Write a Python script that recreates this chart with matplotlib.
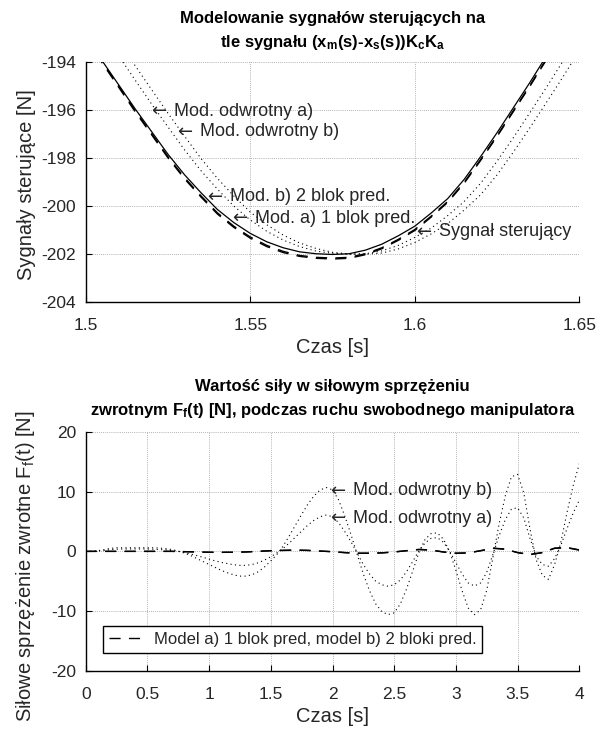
import numpy as np
import matplotlib
matplotlib.use("Agg")
import matplotlib.pyplot as plt

plt.rcParams["font.family"] = ["Liberation Sans", "DejaVu Sans"]
plt.rcParams["mathtext.fontset"] = "custom"
plt.rcParams["mathtext.rm"] = "Liberation Sans"
plt.rcParams["mathtext.it"] = "Liberation Sans:italic"
plt.rcParams["mathtext.bf"] = "Liberation Sans:bold"
plt.rcParams["axes.unicode_minus"] = False

# --- gorny wykres: sygnaly sterujace (t = 1.500 ... 1.650, krok 0.005)
t_top = np.linspace(1.5, 1.65, 31)
syg_ster = [-192.9, -193.95, -194.95, -195.95, -196.9, -197.85, -198.7, -199.45,
            -200.15, -200.7, -201.15, -201.5, -201.75, -201.92, -202.0, -202.03,
            -202.0, -201.85, -201.6, -201.25, -200.85, -200.3, -199.7, -198.9,
            -197.95, -196.95, -195.9, -194.85, -193.75, -192.6, -191.4]
mod_a_1blok = [-192.95, -194.0, -195.0, -196.02, -196.98, -197.95, -198.82, -199.58,
               -200.29, -200.85, -201.3, -201.65, -201.9, -202.07, -202.15, -202.18,
               -202.15, -202.0, -201.75, -201.4, -200.99, -200.43, -199.82, -199.02,
               -198.07, -197.07, -196.02, -194.97, -193.87, -192.72, -191.52]
mod_b_2blok = [-192.98, -194.04, -195.05, -196.07, -197.03, -198.0, -198.87, -199.63,
               -200.34, -200.9, -201.35, -201.7, -201.95, -202.11, -202.19, -202.22,
               -202.19, -202.04, -201.79, -201.44, -201.03, -200.47, -199.86, -199.06,
               -198.11, -197.11, -196.06, -195.01, -193.91, -192.76, -191.56]
odwr_a = [-191.7, -192.7, -193.74, -194.75, -195.75, -196.71, -197.66, -198.53,
          -199.3, -200.01, -200.59, -201.06, -201.43, -201.7, -201.89, -201.98,
          -202.02, -202.0, -201.88, -201.65, -201.32, -200.93, -200.41, -199.82,
          -199.06, -198.14, -197.15, -196.11, -195.06, -193.97, -192.83]
odwr_b = [-191.2, -192.1, -193.11, -194.15, -195.15, -196.14, -197.09, -198.02,
          -198.85, -199.59, -200.26, -200.79, -201.22, -201.55, -201.78, -201.94,
          -202.01, -202.02, -201.97, -201.8, -201.53, -201.17, -200.74, -200.18,
          -199.54, -198.71, -197.75, -196.74, -195.69, -194.63, -193.52]

# --- dolny wykres: sila w sprzezeniu zwrotnym (t = 0 ... 4, krok 0.05)
t_bot = np.linspace(0, 4, 81)
ff_odwr_b = [0.0, 0.0, 0.1, 0.3, 0.5, 0.6, 0.6, 0.6, 0.6, 0.6, 0.6, 0.6, 0.55, 0.45,
             0.3, 0.05, -0.3, -0.7, -1.2, -1.7, -2.2, -2.7, -3.2, -3.6, -3.95, -4.15,
             -4.15, -3.9, -3.4, -2.6, -1.6, -0.5, 0.9, 2.6, 4.4, 6.2, 7.9, 9.3, 10.3,
             10.7, 10.3, 8.6, 5.9, 2.8, -0.5, -3.8, -6.6, -8.8, -10.1, -10.6, -10.3,
             -8.8, -6.3, -3.3, -0.2, 2.0, 3.0, 3.1, 2.0, -0.1, -3.2, -6.6, -9.5, -10.6,
             -9.8, -6.5, -1.0, 4.6, 9.3, 12.5, 12.9, 9.8, 3.8, -1.4, -4.0, -4.7, -2.2,
             1.5, 6.5, 11.0, 14.7]
ff_odwr_a = [0.0, 0.0, 0.05, 0.15, 0.3, 0.35, 0.4, 0.4, 0.4, 0.4, 0.4, 0.35, 0.3, 0.25,
             0.15, 0.0, -0.2, -0.45, -0.7, -1.0, -1.3, -1.6, -1.85, -2.05, -2.25, -2.35,
             -2.35, -2.2, -1.9, -1.45, -0.9, -0.25, 0.5, 1.4, 2.4, 3.4, 4.4, 5.2, 5.8,
             6.1, 5.8, 4.8, 3.3, 1.6, -0.3, -2.2, -3.8, -5.0, -5.6, -5.85, -5.6, -4.8,
             -3.4, -1.7, 0.1, 1.4, 2.2, 2.3, 1.5, 0.0, -1.9, -3.8, -5.3, -5.8, -5.3,
             -3.5, -0.5, 2.6, 5.3, 7.1, 7.3, 5.6, 2.2, -0.8, -2.2, -2.5, -1.2, 1.0, 3.8,
             6.4, 8.6]

# modele a) i b) (t = 0 ... 4, krok 0.1)
t_mod = np.linspace(0, 4, 41)
ff_mod_a = [0.0, 0.0, 0.0, 0.0, 0.0, 0.0, 0.0, 0.0, -0.05, -0.1, -0.15, -0.15, -0.15,
            -0.1, 0.0, 0.1, 0.15, 0.2, 0.15, 0.05, -0.05, -0.2, -0.3, -0.3, -0.25,
            -0.1, 0.1, 0.3, 0.2, -0.1, -0.3, -0.25, 0.1, 0.5, 0.35, -0.2, -0.5, -0.2,
            0.5, 0.6, 0.2]
ff_mod_b = [0.0, 0.0, 0.0, 0.0, 0.0, 0.0, 0.0, 0.0, -0.05, -0.1, -0.15, -0.17, -0.15,
            -0.1, 0.02, 0.12, 0.18, 0.22, 0.17, 0.05, -0.07, -0.22, -0.33, -0.32, -0.26,
            -0.1, 0.12, 0.33, 0.22, -0.12, -0.33, -0.27, 0.12, 0.55, 0.38, -0.22, -0.55,
            -0.22, 0.55, 0.65, 0.25]

TXT = "#262626"
dash = dict(linestyle=(0, (8, 6)), color="k", lw=1.0)
dots = dict(linestyle=(0, (1, 3)), color="k", lw=0.8)


def strzalka(ax, x, y, s):
    # strzalka jak \leftarrow w MATLAB, tekst obok
    ax.text(x, y, "\u2190", fontsize=13, family="DejaVu Sans", color=TXT,
            ha="left", va="center")
    ax.annotate(s, (x, y), xytext=(16.2, 0), textcoords="offset points",
                fontsize=13, color=TXT, ha="left", va="center")


fig = plt.figure(figsize=(6.07, 7.31), dpi=100)
ax1 = fig.add_axes([0.1412, 0.5873, 0.8132, 0.3279])
ax2 = fig.add_axes([0.1412, 0.0825, 0.8132, 0.3265])

ax1.plot(t_top, odwr_a, **dots)
ax1.plot(t_top, odwr_b, **dots)
ax1.plot(t_top, mod_a_1blok, **dash)
ax1.plot(t_top, mod_b_2blok, **dash)
ax1.plot(t_top, syg_ster, color="k", lw=0.9)
ax1.set_xlim(1.5, 1.65)
ax1.set_ylim(-204, -194)
ax1.set_xticks([1.5, 1.55, 1.6, 1.65])
ax1.set_xticklabels(["1.5", "1.55", "1.6", "1.65"])
ax1.set_yticks([-204, -202, -200, -198, -196, -194])

strzalka(ax1, 1.5200, -196.05, "Mod. odwrotny a)")
strzalka(ax1, 1.5278, -196.9, "Mod. odwrotny b)")
strzalka(ax1, 1.5370, -199.62, "Mod. b) 2 blok pred.")
strzalka(ax1, 1.5446, -200.52, "Mod. a) 1 blok pred.")
strzalka(ax1, 1.6005, -201.08, "Sygnał sterujący")

ax2.plot(t_bot, ff_odwr_b, **dots)
ax2.plot(t_bot, ff_odwr_a, **dots)
ax2.plot(t_mod, ff_mod_a, label="Model a) 1 blok pred, model b) 2 bloki pred.", **dash)
ax2.plot(t_mod, ff_mod_b, **dash)
ax2.set_xlim(0, 4)
ax2.set_ylim(-20, 20)
ax2.set_xticks([0, 0.5, 1, 1.5, 2, 2.5, 3, 3.5, 4])
ax2.set_xticklabels(["0", "0.5", "1", "1.5", "2", "2.5", "3", "3.5", "4"])
ax2.set_yticks([-20, -10, 0, 10, 20])
strzalka(ax2, 1.982, 10.2, "Mod. odwrotny b)")
strzalka(ax2, 1.982, 5.55, "Mod. odwrotny a)")

leg = ax2.legend(loc="lower left", bbox_to_anchor=(0.0351, 0.0754), borderaxespad=0,
                 fontsize=12, frameon=True, fancybox=False, framealpha=1,
                 edgecolor="k", handlelength=2.0, handletextpad=0.7, borderpad=0.35)
leg.get_frame().set_linewidth(1.0)
for t in leg.get_texts():
    t.set_color(TXT)

for ax in (ax1, ax2):
    ax.grid(True, color="#9a9a9a", linestyle=(0, (1, 1.5)), lw=0.6)
    ax.spines["top"].set_visible(False)
    ax.spines["right"].set_visible(False)
    ax.spines["left"].set_linewidth(1.0)
    ax.spines["bottom"].set_linewidth(1.0)
    ax.tick_params(direction="in", length=4, width=0.8, labelsize=12.5,
                   labelcolor=TXT)
    ax.tick_params(axis="x", pad=11.5)
    ax.tick_params(axis="y", pad=7)

ax1.set_xlabel("Czas [s]", fontsize=14.5, color=TXT, labelpad=4)
ax2.set_xlabel("Czas [s]", fontsize=14.5, color=TXT, labelpad=4)
fig.text(26 / 607, 1 - 185 / 731, "Sygnały sterujące [N]", rotation=90,
         fontsize=14.5, color=TXT, ha="center", va="center")
fig.text(26 / 607, 1 - 566 / 731, r"Siłowe sprzężenie zwrotne F$_\mathrm{f}$(t) [N]",
         rotation=90, fontsize=14.5, color=TXT, ha="center", va="center")

cx = (85.7 + 579.3) / 2 / 607
fig.text(cx, 1 - 23.5 / 731, "Modelowanie sygnałów sterujących na",
         fontsize=12, weight="bold", ha="center", va="baseline")
fig.text(cx, 1 - 46.5 / 731,
         r"tle sygnału (x$_\mathbf{m}$(s)-x$_\mathbf{s}$(s))K$_\mathbf{c}$K$_\mathbf{a}$",
         fontsize=12, weight="bold", ha="center", va="baseline")
fig.text(cx, 1 - 391.5 / 731, "Wartość siły w siłowym sprzężeniu",
         fontsize=12, weight="bold", ha="center", va="baseline")
fig.text(cx, 1 - 415 / 731,
         r"zwrotnym F$_\mathbf{f}$(t) [N], podczas ruchu swobodnego manipulatora",
         fontsize=12, weight="bold", ha="center", va="baseline")

fig.savefig("out.png", dpi=100)
